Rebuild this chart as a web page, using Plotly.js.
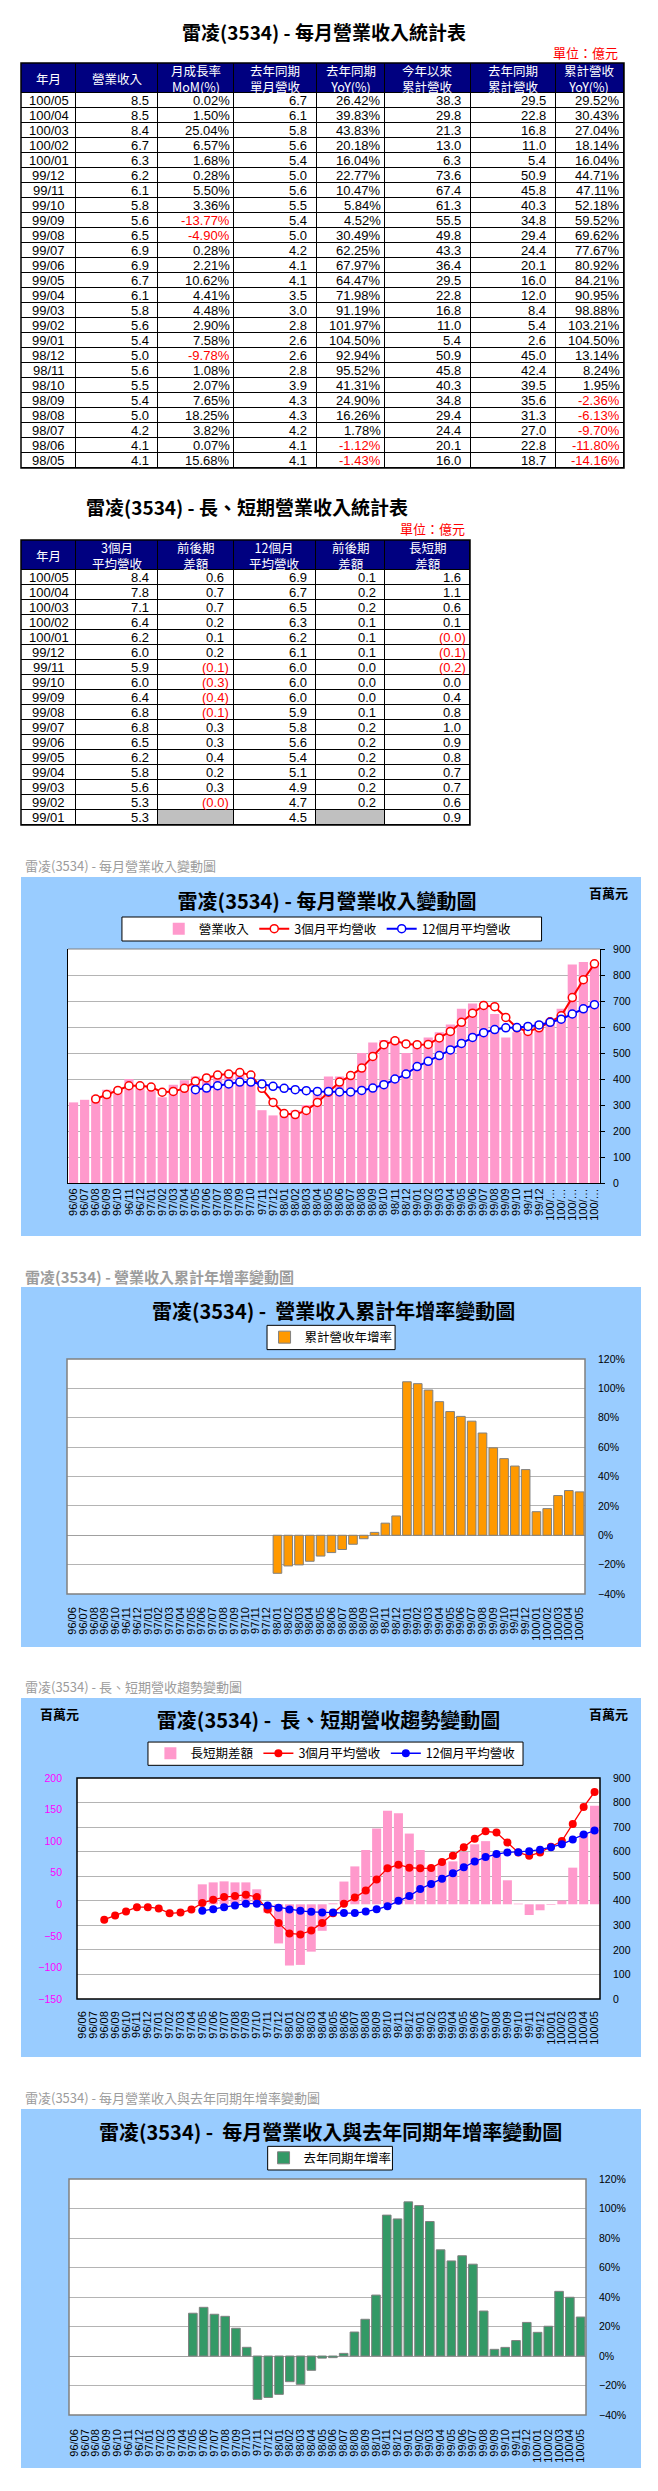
<!DOCTYPE html>
<html><head><meta charset="utf-8">
<script src="https://cdn.plot.ly/plotly-3.0.1.min.js"></script>
<style>
html,body{margin:0;padding:0;background:#fff}
body{width:658px;height:2491px;position:relative;overflow:hidden}
.blk{position:absolute}
.cap{position:absolute;font-family:"Noto Sans CJK TC","Noto Sans CJK SC",sans-serif;font-size:13px;color:#9c9c9c;white-space:nowrap;line-height:1}
</style></head><body>
<div id="t1" class="blk"></div>
<div id="t2" class="blk"></div>
<div class="cap" style="left:25px;top:859px">雷凌(3534) - 每月營業收入變動圖</div>
<div id="c1" class="blk"></div>
<div class="cap" style="left:25px;top:1269px;font-size:15px;font-weight:bold">雷凌(3534) -  營業收入累計年增率變動圖</div>
<div id="c2" class="blk"></div>
<div class="cap" style="left:25px;top:1680px">雷凌(3534) -  長、短期營收趨勢變動圖</div>
<div id="c3" class="blk"></div>
<div class="cap" style="left:25px;top:2091px">雷凌(3534) -  每月營業收入與去年同期年增率變動圖</div>
<div id="c4" class="blk"></div>
<script>
// ---------- Table 1 data (億元) ----------
const t1Header = ['年月','營業收入','月成長率<br>MoM(%)','去年同期<br>單月營收','去年同期<br>YoY(%)','今年以來<br>累計營收','去年同期<br>累計營收','累計營收<br>YoY(%)'];
const t1Month = ['100/05','100/04','100/03','100/02','100/01','99/12','99/11','99/10','99/09','99/08','99/07','99/06','99/05','99/04','99/03','99/02','99/01','98/12','98/11','98/10','98/09','98/08','98/07','98/06','98/05'];
const t1Rev = [8.5,8.5,8.4,6.7,6.3,6.2,6.1,5.8,5.6,6.5,6.9,6.9,6.7,6.1,5.8,5.6,5.4,5.0,5.6,5.5,5.4,5.0,4.2,4.1,4.1];
const t1MoM = [0.02,1.50,25.04,6.57,1.68,0.28,5.50,3.36,-13.77,-4.90,0.28,2.21,10.62,4.41,4.48,2.90,7.58,-9.78,1.08,2.07,7.65,18.25,3.82,0.07,15.68];
const t1LastRev = [6.7,6.1,5.8,5.6,5.4,5.0,5.6,5.5,5.4,5.0,4.2,4.1,4.1,3.5,3.0,2.8,2.6,2.6,2.8,3.9,4.3,4.3,4.2,4.1,4.1];
const t1YoY = [26.42,39.83,43.83,20.18,16.04,22.77,10.47,5.84,4.52,30.49,62.25,67.97,64.47,71.98,91.19,101.97,104.50,92.94,95.52,41.31,24.90,16.26,1.78,-1.12,-1.43];
const t1Ytd = [38.3,29.8,21.3,13.0,6.3,73.6,67.4,61.3,55.5,49.8,43.3,36.4,29.5,22.8,16.8,11.0,5.4,50.9,45.8,40.3,34.8,29.4,24.4,20.1,16.0];
const t1LastYtd = [29.5,22.8,16.8,11.0,5.4,50.9,45.8,40.3,34.8,29.4,24.4,20.1,16.0,12.0,8.4,5.4,2.6,45.0,42.4,39.5,35.6,31.3,27.0,22.8,18.7];
const t1YtdYoY = [29.52,30.43,27.04,18.14,16.04,44.71,47.11,52.18,59.52,69.62,77.67,80.92,84.21,90.95,98.88,103.21,104.50,13.14,8.24,1.95,-2.36,-6.13,-9.70,-11.80,-14.16];

// ---------- Table 2 data (億元) ----------
const t2Header = ['年月','3個月<br>平均營收','前後期<br>差額','12個月<br>平均營收','前後期<br>差額','長短期<br>差額'];
const t2Month = ['100/05','100/04','100/03','100/02','100/01','99/12','99/11','99/10','99/09','99/08','99/07','99/06','99/05','99/04','99/03','99/02','99/01'];
const t2Avg3 = [8.4,7.8,7.1,6.4,6.2,6.0,5.9,6.0,6.4,6.8,6.8,6.5,6.2,5.8,5.6,5.3,5.3];
const t2Diff3 = [0.6,0.7,0.7,0.2,0.1,0.2,-0.1,-0.3,-0.4,-0.1,0.3,0.3,0.4,0.2,0.3,-0.04,null];
const t2Avg12 = [6.9,6.7,6.5,6.3,6.2,6.1,6.0,6.0,6.0,5.9,5.8,5.6,5.4,5.1,4.9,4.7,4.5];
const t2Diff12 = [0.1,0.2,0.2,0.1,0.1,0.1,0.0,0.0,0.0,0.1,0.2,0.2,0.2,0.2,0.2,0.2,null];
const t2LongShort = [1.6,1.1,0.6,0.1,-0.04,-0.1,-0.2,0.0,0.4,0.8,1.0,0.9,0.8,0.7,0.7,0.6,0.9];

// ---------- Chart data (百萬元 / %) ----------
const months = ['96/06','96/07','96/08','96/09','96/10','96/11','96/12',
 '97/01','97/02','97/03','97/04','97/05','97/06','97/07','97/08','97/09','97/10','97/11','97/12',
 '98/01','98/02','98/03','98/04','98/05','98/06','98/07','98/08','98/09','98/10','98/11','98/12',
 '99/01','99/02','99/03','99/04','99/05','99/06','99/07','99/08','99/09','99/10','99/11','99/12',
 '100/01','100/02','100/03','100/04','100/05'];
const c1TickText = ['96/06','96/07','96/08','96/09','96/10','96/11','96/12',
 '97/01','97/02','97/03','97/04','97/05','97/06','97/07','97/08','97/09','97/10','97/11','97/12',
 '98/01','98/02','98/03','98/04','98/05','98/06','98/07','98/08','98/09','98/10','98/11','98/12',
 '99/01','99/02','99/03','99/04','99/05','99/06','99/07','99/08','99/09','99/10','99/11','99/12',
 '100/…','100/…','100/…','100/…','100/…'];
const revenue = [310,320,336,359,362,400,372,
 355,330,378,395,410,410,420,430,430,390,280,260,
 260,280,300,350,410,410,420,500,540,550,560,500,
 540,560,580,610,670,690,690,650,560,580,610,620,
 630,670,840,850,850];
const avg3 = [null,null,323,340,356,374,374,
 369,349,352,364,391,404,415,419,425,415,364,310,
 267,263,279,310,349,388,413,442,487,532,547,535,
 532,533,558,583,618,653,683,678,637,597,583,597,
 620,643,713,782,843];
const avg12 = [null,null,null,null,null,null,null,
 null,null,null,null,359,365,374,381,388,388,381,372,
 364,359,355,352,352,350,350,356,365,378,400,419,
 448,468,490,512,537,560,578,590,597,598,602,608,
 618,630,650,670,686];
const longShort = [null,null,null,null,null,null,null,
 null,null,null,null,31.6,34.7,36.3,34.7,34.7,23.7,-13.2,-62,
 -97,-96,-75,-42,1.5,36,60,86,120,148,144,112,
 86,60,66,68,83,95,100,80,38,1,-17,-9.5,
 -1,6,58,113,156];
const cumYoY = [null,null,null,null,null,null,null,
 null,null,null,null,null,null,null,null,null,null,null,null,
 -25.9,-20.9,-20.2,-17.7,-14.16,-11.80,-9.70,-6.13,-2.36,1.95,8.24,13.14,
 104.50,103.21,98.88,90.95,84.21,80.92,77.67,69.62,59.52,52.18,47.11,44.71,
 16.04,18.14,27.04,30.43,29.52];
const monthYoY = [null,null,null,null,null,null,null,
 null,null,null,null,29.0,33.0,28.3,26.9,18.8,5.9,-29.4,-28.1,
 -26.0,-17.4,-19.2,-9.7,-1.43,-1.12,1.78,16.26,24.90,41.31,95.52,92.94,
 104.50,101.97,91.19,71.98,64.47,67.97,62.25,30.49,4.52,5.84,10.47,22.77,
 16.04,20.18,43.83,39.83,26.42];

// ---------- helpers ----------
const CJK = '"Noto Sans CJK TC","Noto Sans CJK SC",sans-serif';
const LAT = '"Liberation Sans",Arial,sans-serif';
const CFG = {staticPlot:true, displayModeBar:false};
const BLUE_BG = '#99CCFF';
const GRID = '#B4B4B4';

function frame(id, box, plot){
  const el = document.getElementById(id);
  el.style.left = box.left+'px'; el.style.top = box.top+'px';
  el.style.width = box.w+'px'; el.style.height = box.h+'px';
  const m = {l: plot.x0-box.left, r: box.left+box.w-plot.x1, t: plot.y0-box.top, b: box.top+box.h-plot.y1, pad:0};
  const pw = plot.x1-plot.x0, ph = plot.y1-plot.y0;
  return {m, px: X => (X-plot.x0)/pw, py: Y => (plot.y1-Y)/ph};
}
function txt(f, X, Y, text, font, xanchor){
  return {xref:'paper', yref:'paper', x:f.px(X), y:f.py(Y), text:text, showarrow:false,
    xanchor:xanchor||'center', yanchor:'middle', font:font};
}
function boxShape(f, X0, Y0, X1, Y1, fill, line, layer){
  return {type:'rect', xref:'paper', yref:'paper', x0:f.px(X0), x1:f.px(X1), y0:f.py(Y1), y1:f.py(Y0),
    fillcolor:fill, line:{color:line, width:1}, layer:layer||'above'};
}
const f1 = v => v.toFixed(1);
const fp = v => v.toFixed(2)+'%';
const fpar = v => v==null ? '' : (v<0 ? '('+Math.abs(v).toFixed(1)+')' : v.toFixed(1));

// Table drawn as a heatmap (cell fills, 1px gaps = black rules) plus text annotations on data axes
// col: {values, fmt, kind:'center'|'dec'|'pct'|'par', raw}
function makeTable(id, box, x0, y0, colW, headH, rowH, header, cols, title, titleX, titleY, unitX, unitY){
  const n = cols[0].values.length;
  const W = colW.reduce((a,b)=>a+b,0), H = headH + n*rowH;
  const f = frame(id, box, {x0:x0, x1:x0+W, y0:y0, y1:y0+H});
  const xe = [0]; colW.forEach(w => xe.push(xe[xe.length-1]+w));
  const ye = [0, headH]; for(let r=0;r<n;r++) ye.push(ye[ye.length-1]+rowH);
  const z = [colW.map(()=>1)];
  for(let r=0;r<n;r++) z.push(cols.map(c => (c.kind==='par' && c.values[r]==null) ? 2 : 0));
  const ann = [];
  header.forEach((h,i) => ann.push({xref:'x', yref:'y', x:(xe[i]+xe[i+1])/2, y:headH/2, text:h, showarrow:false,
    xanchor:'center', yanchor:'middle', font:{family:CJK, size:12.5, color:'#FFFFFF'}}));
  cols.forEach((c,i) => {
    c.values.forEach((v,r) => {
      if(v==null) return;
      const neg = (typeof v === 'number') && v < 0;
      const yc = headH + (r+0.5)*rowH;
      let a = {xref:'x', yref:'y', y:yc, text:c.fmt(v), showarrow:false, yanchor:'middle',
        font:{family:LAT, size:13, color: neg ? '#FF0000' : '#000000'}};
      if(c.kind==='center'){ a.x=(xe[i]+xe[i+1])/2; a.xanchor='center'; }
      else { a.x=xe[i+1]; a.xanchor='right';
        a.xshift = c.kind==='pct' ? -2.5 : (c.kind==='par' ? (neg ? -2.5 : -7.5) : -7.5); }
      ann.push(a);
    });
  });
  ann.push(txt(f, unitX, unitY, '單位：億元', {family:CJK, size:13, color:'#FF0000'}, 'right'));
  Plotly.newPlot(id, [{
    type:'heatmap', x:xe, y:ye, z:z, zmin:0, zmax:2, showscale:false, hoverinfo:'skip',
    colorscale:[[0,'#FFFFFF'],[0.5,'#000080'],[1,'#C0C0C0']], xgap:1, ygap:1
  }], {
    width:box.w, height:box.h, margin:f.m, paper_bgcolor:'#FFFFFF', plot_bgcolor:'#000000',
    xaxis:{visible:false, range:[0,W], fixedrange:true},
    yaxis:{visible:false, range:[H,0], fixedrange:true},
    title:{text:title, xref:'container', yref:'container', x:(titleX-box.left)/box.w, y:1-(titleY-box.top)/box.h,
      xanchor:'center', yanchor:'middle', font:{family:CJK, size:19, color:'#000000'}},
    shapes:[{type:'rect', xref:'paper', yref:'paper', x0:0, x1:1, y0:0, y1:1, line:{color:'#000000', width:1.5}, fillcolor:'rgba(0,0,0,0)'}],
    annotations:ann
  }, CFG);
}

makeTable('t1', {left:0, top:0, w:658, h:470}, 21.3, 63.3, [55.2,82,75.7,82.4,68.9,85,85,68.4], 30, 15, t1Header, [
  {values:t1Month, fmt:v=>v, kind:'center'},
  {values:t1Rev, fmt:f1, kind:'dec'},
  {values:t1MoM, fmt:fp, kind:'pct'},
  {values:t1LastRev, fmt:f1, kind:'dec'},
  {values:t1YoY, fmt:fp, kind:'pct'},
  {values:t1Ytd, fmt:f1, kind:'dec'},
  {values:t1LastYtd, fmt:f1, kind:'dec'},
  {values:t1YtdYoY, fmt:fp, kind:'pct'}
], '<b>雷凌(3534) - 每月營業收入統計表</b>', 324, 33, 620, 53);

makeTable('t2', {left:0, top:470, w:658, h:360}, 21.3, 540.3, [55.2,82,75.7,82.4,68.9,85], 30, 15, t2Header, [
  {values:t2Month, fmt:v=>v, kind:'center'},
  {values:t2Avg3, fmt:f1, kind:'dec'},
  {values:t2Diff3, fmt:fpar, kind:'par'},
  {values:t2Avg12, fmt:f1, kind:'dec'},
  {values:t2Diff12, fmt:fpar, kind:'par'},
  {values:t2LongShort, fmt:fpar, kind:'par'}
], '<b>雷凌(3534) - 長、短期營業收入統計表</b>', 247, 508, 467.5, 529);

const tickFontX = {family:LAT, size:11, color:'#000000'};
const tickFontY = {family:LAT, size:10.5, color:'#000000'};
const titleFont = {family:CJK, size:20, color:'#000000'};
const legFont = {family:CJK, size:12.5, color:'#000000'};

// ---------- Chart 1 ----------
(function(){
  const box = {left:21, top:877, w:620, h:359};
  const f = frame('c1', box, {x0:68, x1:600.5, y0:949.3, y1:1183.3});
  const traces = [
    {type:'bar', x:months, y:revenue, name:'營業收入', marker:{color:'#FF99CC'}},
    {type:'scatter', mode:'lines+markers', x:months, y:avg3, name:'3個月平均營收',
      line:{color:'#FF0000', width:2}, marker:{symbol:'circle', size:8, color:'#FFFFFF', line:{color:'#FF0000', width:1.5}}},
    {type:'scatter', mode:'lines+markers', x:months, y:avg12, name:'12個月平均營收',
      line:{color:'#0000FF', width:2}, marker:{symbol:'circle', size:8, color:'#FFFFFF', line:{color:'#0000FF', width:1.5}}}
  ];
  Plotly.newPlot('c1', traces, {
    width:box.w, height:box.h, margin:f.m, paper_bgcolor:BLUE_BG, plot_bgcolor:'#FFFFFF',
    bargap:0.17, showlegend:true,
    title:{text:'<b>雷凌(3534) - 每月營業收入變動圖</b>', xref:'container', yref:'container',
      x:(327-box.left)/box.w, y:1-(901.7-box.top)/box.h, xanchor:'center', yanchor:'middle', font:titleFont},
    legend:{orientation:'h', x:f.px(338), y:f.py(929.3), xanchor:'center', yanchor:'middle',
      bgcolor:'rgba(0,0,0,0)', borderwidth:0, font:legFont, itemwidth:30},
    xaxis:{type:'category', tickangle:-90, tickmode:'array', tickvals:months, ticktext:c1TickText, tickfont:tickFontX,
      showline:true, linecolor:'#000000', linewidth:1, showgrid:false, ticks:'', range:[-0.5,47.5]},
    yaxis:{side:'right', range:[0,900], dtick:100, tickfont:tickFontY, showgrid:true, gridcolor:GRID,
      showline:true, linecolor:'#000000', mirror:true, ticks:'outside', ticklen:4, tickcolor:'#000000',
      ticklabelstandoff:6, zeroline:false},
    shapes:[
      boxShape(f, 122, 917.3, 542, 941.3, '#FFFFFF', '#000000', 'below'),
      {type:'line', xref:'paper', yref:'paper', x0:0, x1:1, y0:1, y1:1, line:{color:'#808080', width:1}}
    ],
    annotations:[txt(f, 608.6, 892.7, '<b>百萬元</b>', {family:CJK, size:13, color:'#000000'})]
  }, CFG);
})();

// ---------- Chart 2 ----------
(function(){
  const box = {left:21, top:1287, w:620, h:360};
  const f = frame('c2', box, {x0:67.1, x1:584.8, y0:1358.7, y1:1594});
  Plotly.newPlot('c2', [
    {type:'bar', x:months, y:cumYoY, name:'累計營收年增率', marker:{color:'#FF9900', line:{color:'#808080', width:1}}}
  ], {
    width:box.w, height:box.h, margin:f.m, paper_bgcolor:BLUE_BG, plot_bgcolor:'#FFFFFF',
    bargap:0.2, showlegend:true,
    title:{text:'<b>雷凌(3534) -  營業收入累計年增率變動圖</b>', xref:'container', yref:'container',
      x:(333.6-box.left)/box.w, y:1-(1312.3-box.top)/box.h, xanchor:'center', yanchor:'middle', font:titleFont},
    legend:{orientation:'h', x:f.px(331), y:f.py(1337.2), xanchor:'center', yanchor:'middle',
      bgcolor:'rgba(0,0,0,0)', borderwidth:0, font:legFont, itemwidth:30},
    xaxis:{type:'category', tickangle:-90, tickmode:'array', tickvals:months, ticktext:months, tickfont:tickFontX,
      showline:false, showgrid:false, ticks:'', ticklabelstandoff:10, range:[-0.5,47.5]},
    yaxis:{side:'right', range:[-40,120], dtick:20, ticksuffix:'%', tickfont:tickFontY, showgrid:true, gridcolor:GRID,
      zeroline:true, zerolinecolor:'#A0A0A0', zerolinewidth:1, showline:false, ticks:'', ticklabelstandoff:12},
    shapes:[
      boxShape(f, 267, 1325, 395, 1349.3, '#FFFFFF', '#000000', 'below'),
      {type:'rect', xref:'paper', yref:'paper', x0:0, x1:1, y0:0, y1:1, line:{color:'#808080', width:1.5}, fillcolor:'rgba(0,0,0,0)', layer:'above'}
    ]
  }, CFG);
})();

// ---------- Chart 3 ----------
(function(){
  const box = {left:21, top:1698.3, w:620, h:358.4};
  const f = frame('c3', box, {x0:76.5, x1:599.7, y0:1778.7, y1:2000});
  Plotly.newPlot('c3', [
    {type:'bar', x:months, y:longShort, name:'長短期差額', marker:{color:'#FF99CC'}, yaxis:'y'},
    {type:'scatter', mode:'lines+markers', x:months, y:avg3, name:'3個月平均營收', yaxis:'y2',
      line:{color:'#FF0000', width:1.3}, marker:{symbol:'circle', size:8, color:'#FF0000'}},
    {type:'scatter', mode:'lines+markers', x:months, y:avg12, name:'12個月平均營收', yaxis:'y2',
      line:{color:'#0000FF', width:1.3}, marker:{symbol:'circle', size:8, color:'#0000FF'}}
  ], {
    width:box.w, height:box.h, margin:f.m, paper_bgcolor:BLUE_BG, plot_bgcolor:'#FFFFFF',
    bargap:0.17, showlegend:true,
    title:{text:'<b>雷凌(3534) -  長、短期營收趨勢變動圖</b>', xref:'container', yref:'container',
      x:(328.5-box.left)/box.w, y:1-(1721.7-box.top)/box.h, xanchor:'center', yanchor:'middle', font:titleFont},
    legend:{orientation:'h', x:f.px(335), y:f.py(1754.3), xanchor:'center', yanchor:'middle',
      bgcolor:'rgba(0,0,0,0)', borderwidth:0, font:legFont, itemwidth:30},
    xaxis:{type:'category', tickangle:-90, tickmode:'array', tickvals:months, ticktext:months, tickfont:tickFontX,
      showline:false, showgrid:false, ticks:'', ticklabelstandoff:9, range:[-0.5,47.5]},
    yaxis:{side:'left', range:[-150,200], dtick:50, tickfont:{family:LAT, size:10.5, color:'#FF00FF'},
      showgrid:false, zeroline:false, showline:false, ticks:'', ticklabelstandoff:14},
    yaxis2:{side:'right', overlaying:'y', range:[0,900], dtick:100, tickfont:tickFontY, showgrid:true, gridcolor:GRID,
      zeroline:false, showline:false, ticks:'', ticklabelstandoff:12},
    shapes:[
      boxShape(f, 147.5, 1742.7, 522.7, 1766, '#FFFFFF', '#000000', 'below'),
      {type:'rect', xref:'paper', yref:'paper', x0:0, x1:1, y0:0, y1:1, line:{color:'#000000', width:1.5}, fillcolor:'rgba(0,0,0,0)', layer:'above'}
    ],
    annotations:[
      txt(f, 58.6, 1714, '<b>百萬元</b>', {family:CJK, size:13, color:'#000000'}),
      txt(f, 608.6, 1714, '<b>百萬元</b>', {family:CJK, size:13, color:'#000000'})
    ]
  }, CFG);
})();

// ---------- Chart 4 ----------
(function(){
  const box = {left:21, top:2109, w:620, h:358.7};
  const f = frame('c4', box, {x0:69.3, x1:585.6, y0:2179.3, y1:2415});
  Plotly.newPlot('c4', [
    {type:'bar', x:months, y:monthYoY, name:'去年同期年增率', marker:{color:'#339966', line:{color:'#808080', width:1}}}
  ], {
    width:box.w, height:box.h, margin:f.m, paper_bgcolor:BLUE_BG, plot_bgcolor:'#FFFFFF',
    bargap:0.2, showlegend:true,
    title:{text:'<b>雷凌(3534) -  每月營業收入與去年同期年增率變動圖</b>', xref:'container', yref:'container',
      x:(330.6-box.left)/box.w, y:1-(2133.3-box.top)/box.h, xanchor:'center', yanchor:'middle', font:titleFont},
    legend:{orientation:'h', x:f.px(330), y:f.py(2158.5), xanchor:'center', yanchor:'middle',
      bgcolor:'rgba(0,0,0,0)', borderwidth:0, font:legFont, itemwidth:30},
    xaxis:{type:'category', tickangle:-90, tickmode:'array', tickvals:months, ticktext:months, tickfont:tickFontX,
      showline:false, showgrid:false, ticks:'', ticklabelstandoff:11, range:[-0.5,47.5]},
    yaxis:{side:'right', range:[-40,120], dtick:20, ticksuffix:'%', tickfont:tickFontY, showgrid:true, gridcolor:GRID,
      zeroline:true, zerolinecolor:'#A0A0A0', zerolinewidth:1, showline:false, ticks:'', ticklabelstandoff:12},
    shapes:[
      boxShape(f, 267.7, 2146.7, 392.3, 2170.3, '#FFFFFF', '#000000', 'below'),
      {type:'rect', xref:'paper', yref:'paper', x0:0, x1:1, y0:0, y1:1, line:{color:'#808080', width:1.5}, fillcolor:'rgba(0,0,0,0)', layer:'above'}
    ]
  }, CFG);
})();
</script>
</body></html>
